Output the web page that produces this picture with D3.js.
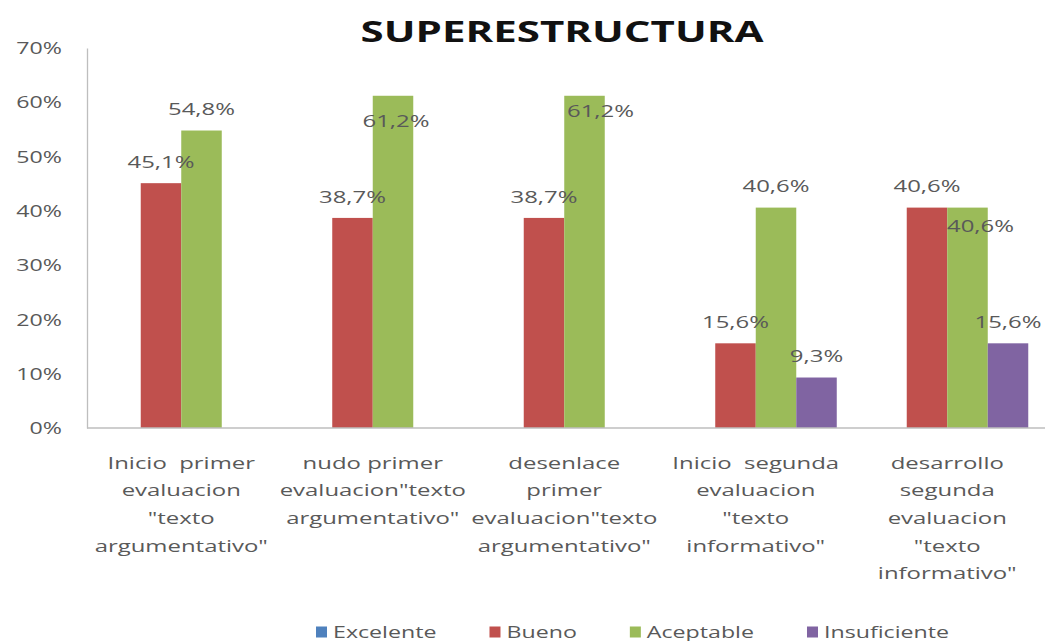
<!DOCTYPE html>
<html lang="es">
<head>
<meta charset="utf-8">
<title>SUPERESTRUCTURA</title>
<script src="https://cdn.jsdelivr.net/npm/d3@7"></script>
<style>
  html, body { margin: 0; padding: 0; background: #ffffff; }
  svg { display: block; }
  text { font-family: "Open Sans", "DejaVu Sans", sans-serif; white-space: pre; }
</style>
</head>
<body>
<svg id="chart" width="1045" height="641"></svg>
<script>
// ---- data ----
const title = "SUPERESTRUCTURA";
const categories = [
  "Inicio  primer\nevaluacion\n\"texto\nargumentativo\"",
  "nudo primer\nevaluacion\"texto\nargumentativo\"",
  "desenlace\nprimer\nevaluacion\"texto\nargumentativo\"",
  "Inicio  segunda\nevaluacion\n\"texto\ninformativo\"",
  "desarrollo\nsegunda\nevaluacion\n\"texto\ninformativo\""
];
const series = ["Excelente", "Bueno", "Aceptable", "Insuficiente"];
const excelente    = [0, 0, 0, 0, 0];
const bueno        = [45.1, 38.7, 38.7, 15.6, 40.6];
const aceptable    = [54.8, 61.2, 61.2, 40.6, 40.6];
const insuficiente = [0, 0, 0, 9.3, 15.6];
const yTicks = [0, 10, 20, 30, 40, 50, 60, 70];

// ---- look ----
const colors = { Excelente: "#4F81BD", Bueno: "#C0504D", Aceptable: "#9BBB59", Insuficiente: "#8064A2" };
const textColor = "#595959";
const SX = 1.45;            // horizontal text stretch
// hand-placed data labels (series|category -> shift)
const labelShift = {
  "Aceptable|1": { dx: 3, dy: 46 },
  "Aceptable|2": { dx: 16, dy: 36 },
  "Aceptable|4": { dx: 13, dy: 40 }
};

const values = { Excelente: excelente, Bueno: bueno, Aceptable: aceptable, Insuficiente: insuficiente };
const rows = [];
series.forEach(s => values[s].forEach((v, i) => rows.push({ s, i, v })));

const svg = d3.select("#chart");
const plot = { left: 85.5, right: 1043, top: 48, bottom: 428 };

const x0 = d3.scaleBand().domain(d3.range(categories.length)).range([plot.left, plot.right]).padding(0);
const x1 = d3.scaleBand().domain(series).range([0, x0.bandwidth()]).paddingInner(0).paddingOuter(0.364);
const y = d3.scaleLinear().domain([0, 70]).range([plot.bottom, plot.top]);

const fmt = d3.formatLocale({ decimal: ",", thousands: ".", grouping: [3], currency: ["", "€"] }).format(".1f");

function place(sel, x, y) {
  return sel.attr("x", 0).attr("y", 0)
    .attr("transform", `translate(${x},${y}) scale(${SX},1)`);
}

// title
place(svg.append("text"), 562, 42)
  .attr("text-anchor", "middle")
  .attr("font-size", 29).attr("font-weight", 700).attr("fill", "#111")
  .text(title);

// y axis
const yAxis = svg.append("g")
  .attr("transform", `translate(87,0)`)
  .call(d3.axisLeft(y).tickValues(yTicks).tickFormat(d => d + "%").tickSize(0).tickPadding(0));
yAxis.select(".domain").attr("stroke", "#BEBEBE").attr("stroke-width", 1.3);
yAxis.selectAll(".tick text")
  .attr("x", 0).attr("dy", "0.35em")
  .attr("transform", `translate(-25,0) scale(${SX},1)`)
  .attr("font-size", 16).attr("font-family", "\"Open Sans\", sans-serif")
  .attr("fill", textColor);

// bars
svg.append("g").selectAll("rect")
  .data(rows.filter(d => d.v > 0))
  .join("rect")
  .attr("x", d => x0(d.i) + x1(d.s))
  .attr("y", d => y(d.v))
  .attr("width", x1.bandwidth())
  .attr("height", d => y(0) - y(d.v))
  .attr("fill", d => colors[d.s]);

// x axis line
svg.append("line")
  .attr("x1", 87).attr("x2", 1045)
  .attr("y1", y(0)).attr("y2", y(0))
  .attr("stroke", "#BEBEBE").attr("stroke-width", 1.3);

// data labels
svg.append("g").selectAll("text")
  .data(rows.filter(d => d.v > 0))
  .join("text")
  .each(function (d) {
    const sh = labelShift[d.s + "|" + d.i] || { dx: 0, dy: 0 };
    const cx = x0(d.i) + x1(d.s) + x1.bandwidth() / 2 + sh.dx;
    const cy = y(d.v) - 21 + sh.dy;
    place(d3.select(this), cx, cy);
  })
  .attr("dy", "0.35em")
  .attr("text-anchor", "middle")
  .attr("font-size", 16.5).attr("fill", textColor)
  .text(d => fmt(d.v) + "%");

// category labels
const catG = svg.append("g");
categories.forEach((c, i) => {
  const cx = x0(i) + x0.bandwidth() / 2;
  c.split("\n").forEach((line, k) => {
    place(catG.append("text"), cx, 463 + k * 27.6)
      .attr("dy", "0.35em")
      .attr("text-anchor", "middle")
      .attr("font-size", 16.5).attr("fill", textColor)
      .text(line);
  });
});

// legend
const legend = svg.append("g");
let lx = 316;
const ly = 632;
series.forEach(s => {
  legend.append("rect")
    .attr("x", lx).attr("y", ly - 5.5)
    .attr("width", 11).attr("height", 11)
    .attr("fill", colors[s]);
  const t = place(legend.append("text"), lx + 17, ly)
    .attr("dy", "0.35em")
    .attr("font-size", 16).attr("fill", textColor)
    .text(s);
  const w = t.node().getComputedTextLength() * SX;
  lx += 17 + w + 53;
});
</script>
</body>
</html>
